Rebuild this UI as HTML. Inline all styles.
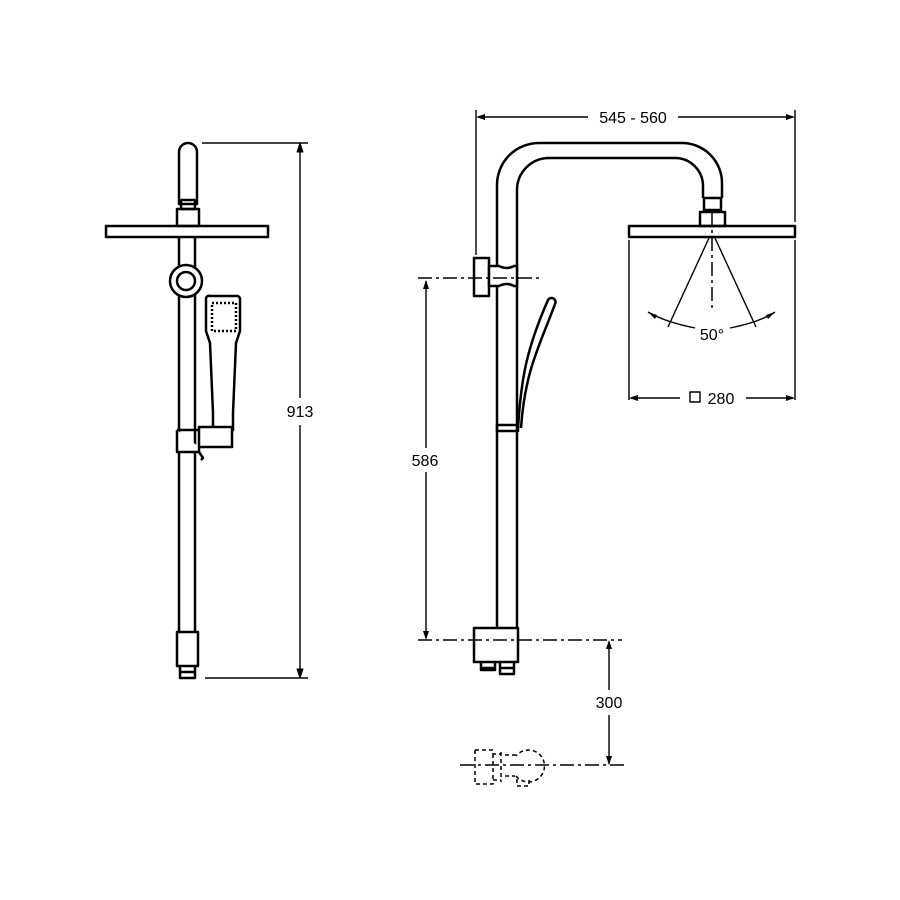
<!DOCTYPE html>
<html><head><meta charset="utf-8"><style>
html,body{margin:0;padding:0;background:#fff}
svg{display:block}
text{font-family:"Liberation Sans",Arial,sans-serif;font-size:16px;fill:#000}
</style></head><body>
<svg width="900" height="900" viewBox="0 0 900 900" xmlns="http://www.w3.org/2000/svg">
<g fill="none" stroke="#000" stroke-width="2.5" stroke-linejoin="round">
<!-- LEFT FIGURE -->
<path d="M179 204 V152 a9 9 0 0 1 18 0 V204 Z"/>
<rect x="181" y="200" width="14" height="9"/>
<rect x="177" y="209" width="22" height="17"/>
<rect x="106" y="226" width="162" height="11"/>
<line x1="179" y1="237" x2="179" y2="632"/>
<line x1="195" y1="237" x2="195" y2="632"/>
<circle cx="186" cy="281" r="16" fill="#fff"/>
<circle cx="186" cy="281" r="9" fill="#fff"/>
<path d="M210 296 h27 a3 3 0 0 1 3 3 v32 l-4 12 -3 70 v17 h-20 v-17 l-3 -70 -4 -12 v-32 a3 3 0 0 1 4 -3 Z" fill="#fff"/>
<rect x="212" y="303" width="24" height="28" stroke-dasharray="2 2" stroke-width="2.5"/>
<path d="M177 430 h22 v-3 h33 v20 h-33 M177 430 v22 h22 v-22" fill="#fff"/>
<path d="M199 452 l4 6 l-2 2"/>
<rect x="177" y="632" width="21" height="34"/>
<path d="M180 666 v12 h15 v-12 M180 672 h15"/>
<!-- dims left -->
<g stroke-width="1.4">
<line x1="202" y1="143" x2="308" y2="143"/>
<line x1="205" y1="678" x2="308" y2="678"/>
<line x1="300" y1="145" x2="300" y2="398"/>
<line x1="300" y1="425" x2="300" y2="676"/>
</g>
<path d="M300 143 l-3 9 h6 Z M300 678 l-3 -9 h6 Z" fill="#000" stroke-width="1"/>

<!-- RIGHT FIGURE -->
<path d="M497 630 V185 a42 42 0 0 1 42 -42 H682 a40 40 0 0 1 40 40 V198"/>
<path d="M517 630 V190 a32 32 0 0 1 32 -32 H675 a28 28 0 0 1 28 28 V198"/>
<rect x="704" y="198" width="17" height="12"/>
<rect x="700" y="212" width="25" height="14"/>
<rect x="629" y="226" width="166" height="11"/>
<rect x="474" y="258" width="15" height="38" fill="#fff"/>
<path d="M489 266 h10 q8 4 15 0 h3 v20 h-3 q-7 -4 -15 0 h-10 Z" fill="#fff"/>
<path d="M518 428 C521 380 526 350 548 300 a4 4 0 0 1 7 4 C540 345 525 370 521 428"/>
<rect x="497" y="425" width="21" height="6"/>
<rect x="474" y="628" width="44" height="34" fill="#fff"/>
<path d="M481 662 v8 h14 v-8 M480 668 h16 M500 662 v12 h14 v-12 M499 668 h16 M499 674 h16"/>
<g stroke-width="1.4">
<line x1="476" y1="110" x2="476" y2="255"/>
<line x1="795" y1="110" x2="795" y2="222"/>
<line x1="478" y1="117" x2="588" y2="117"/>
<line x1="678" y1="117" x2="793" y2="117"/>
<line x1="629" y1="240" x2="629" y2="400"/>
<line x1="795" y1="240" x2="795" y2="400"/>
<line x1="631" y1="398" x2="680" y2="398"/>
<line x1="746" y1="398" x2="793" y2="398"/>
<line x1="426" y1="281" x2="426" y2="448"/>
<line x1="426" y1="472" x2="426" y2="638"/>
<line x1="609" y1="642" x2="609" y2="690"/>
<line x1="609" y1="715" x2="609" y2="764"/>
<line x1="709" y1="238" x2="668" y2="327"/>
<line x1="715" y1="238" x2="756" y2="327"/>
<path d="M648 312 Q665 322 695 328 M730 328 Q760 322 775 312"/>
</g>
<g stroke-width="1.5" stroke-dasharray="14 4 3 4">
<line x1="418" y1="278" x2="540" y2="278"/>
<line x1="712" y1="212" x2="712" y2="312"/>
<line x1="418" y1="640" x2="622" y2="640"/>
<line x1="460" y1="765" x2="625" y2="765"/>
</g>
<g stroke-width="1.5" stroke-dasharray="4 3">
<path d="M475 750 h18 v4 h8 M475 750 v34 h18 v-4 h8 M493 754 v26 M501 752 v30"/>
<path d="M505 755 h12 M505 776 h10 M516 776 a16 16 0 1 0 0 -20"/>
<path d="M517 779 v7 h12 v-7"/>
</g>
<g fill="#000" stroke="none">
<path d="M476 117 l9 -3 v6 Z M795 117 l-9 -3 v6 Z"/>
<path d="M629 398 l9 -3 v6 Z M795 398 l-9 -3 v6 Z"/>
<path d="M426 280 l-3 9 h6 Z M426 640 l-3 -9 h6 Z"/>
<path d="M609 640 l-3 9 h6 Z M609 765 l-3 -9 h6 Z"/>
<path d="M648 312 l9 3 -2 4 Z M775 312 l-9 3 2 4 Z"/>
</g>
<rect x="690" y="392" width="10" height="10" stroke-width="1.4"/>
</g>
<text x="300" y="417" text-anchor="middle">913</text>
<text x="633" y="123" text-anchor="middle">545 - 560</text>
<text x="712" y="340" text-anchor="middle">50°</text>
<text x="721" y="404" text-anchor="middle">280</text>
<text x="425" y="466" text-anchor="middle">586</text>
<text x="609" y="708" text-anchor="middle">300</text>
</svg>
</body></html>
